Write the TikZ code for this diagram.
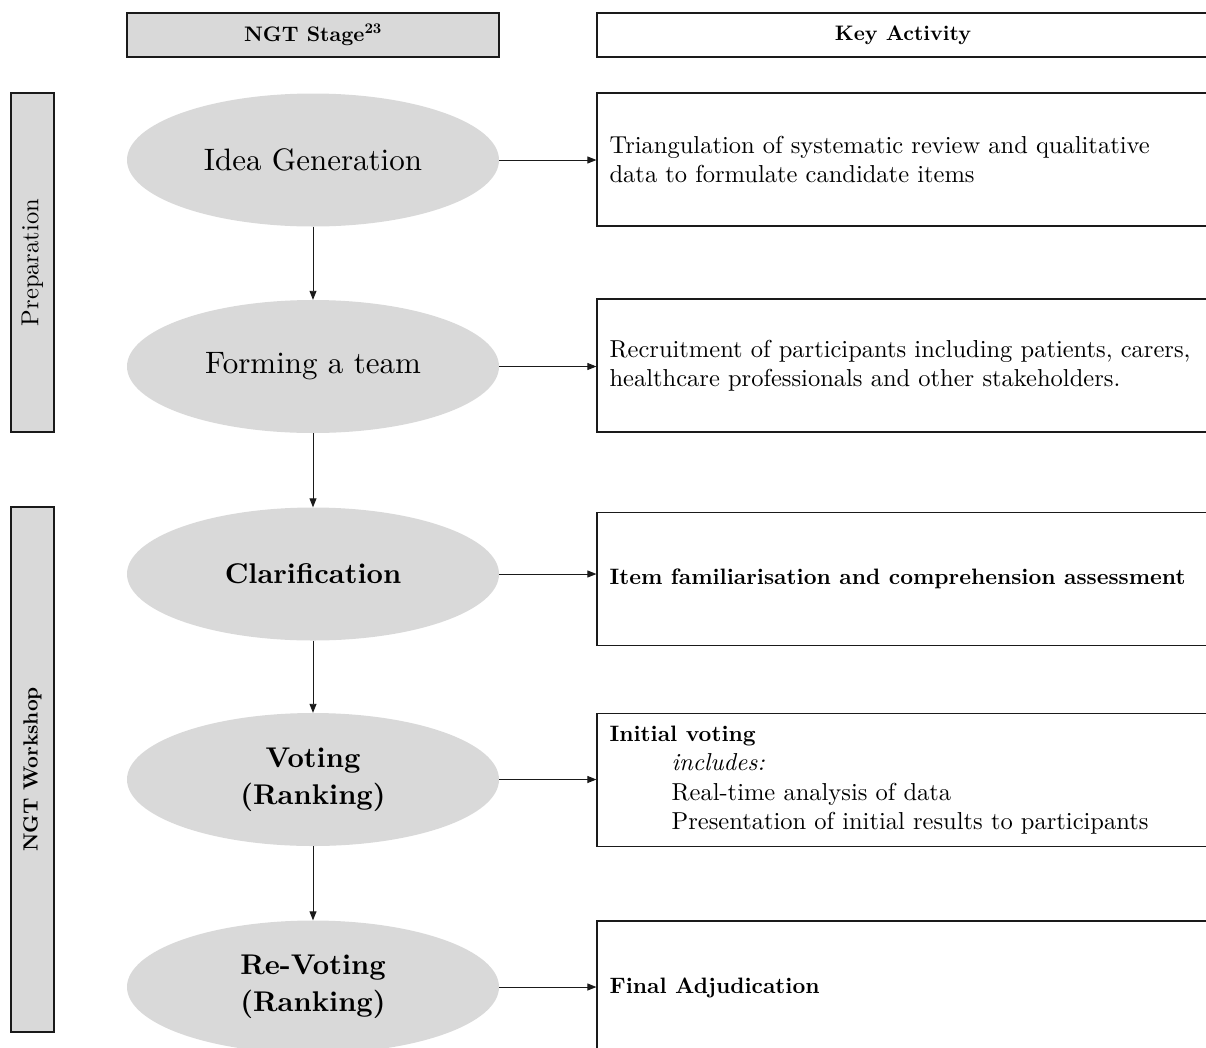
\documentclass[tikz,border=0pt]{standalone}
\usepackage{fontspec}
\setmainfont{lmroman10}[Extension=.otf, UprightFont=*-regular, BoldFont=*-bold,
  ItalicFont=*-italic, BoldItalicFont=*-bolditalic]
\usetikzlibrary{positioning,arrows.meta,shapes.geometric}
\definecolor{cStage}{HTML}{D9D9D9}
\definecolor{cLine}{HTML}{1A1A1A}
\tikzset{
  hdr/.style={draw=cLine, line width=1.4pt, minimum height=44pt, inner sep=0pt,
              font=\fontsize{21}{25}\selectfont\bfseries},
  stagebar/.style={hdr, fill=cStage, minimum width=372pt},
  actbar/.style={hdr, fill=white, minimum width=612pt},
  side/.style={draw=cLine, line width=1.4pt, fill=cStage, rotate=90,
               minimum height=43pt, inner sep=0pt},
  stage/.style={ellipse, fill=cStage, minimum width=372pt, minimum height=133pt,
                inner sep=0pt, align=center},
  stn/.style={stage, font=\fontsize{31}{37}\selectfont},
  stb/.style={stage, font=\fontsize{28.5}{37}\selectfont\bfseries},
  act/.style={draw=cLine, line width=1.2pt, minimum width=612pt, minimum height=133pt,
              inner sep=0pt},
  acttxt/.style={anchor=west, xshift=13pt, inner sep=0pt, align=left,
                 font=\fontsize{24.5}{29.3}\selectfont},
  ar/.style={-{Triangle[length=9pt, width=7pt]}, line width=0.9pt, cLine},
}
\newcommand{\bx}[1]{{\fontsize{22.3}{29.3}\selectfont\bfseries #1}}

\begin{document}
\begin{tikzpicture}[x=1pt, y=-1pt]
    \useasboundingbox (0,0) rectangle (1206,1047);
    \clip (0,0) rectangle (1206,1047);

    % column heads
    \node[stagebar] (hS) at (313,35) {NGT Stage\textsuperscript{23}};
    \node[actbar]   (hA) at (903,35) {Key Activity};

    % phase bars
    \node[side, minimum width=339pt, font=\fontsize{24.5}{29}\selectfont] (pPrep) at (32.5,262.5) {Preparation};
    \node[side, minimum width=525pt, font=\fontsize{20.5}{25}\selectfont\bfseries] (pWork) at (32.5,769.5) {NGT Workshop};

    % stages
    \node[stn] (s1) at (313,160)   {Idea Generation};
    \node[stn] (s2) at (313,366.5) {Forming a team};
    \node[stb] (s3) at (313,574)   {Clarification};
    \node[stb] (s4) at (313,779.5) {Voting\\(Ranking)};
    \node[stb] (s5) at (313,987)   {Re-Voting\\(Ranking)};

    % key activities
    \node[act] (a1) at (903,159.5) {};
    \node[act] (a2) at (903,365.5) {};
    \node[act] (a3) at (903,579)   {};
    \node[act] (a4) at (903,780)   {};
    \node[act] (a5) at (903,987.5) {};
    \node[acttxt] (t1) at (a1.west) {Triangulation of systematic review and qualitative\\data to formulate candidate items};
    \node[acttxt] (t2) at (a2.west) {Recruitment of participants including patients, carers,\\healthcare professionals and other stakeholders.};
    \node[acttxt] (t3) at (a3.west) {\bx{Item familiarisation and comprehension assessment}};
    \node[acttxt] (t4) at (a4.west) {\bx{Initial voting}\\\hspace*{62pt}\textit{includes:}\\\hspace*{62pt}Real-time analysis of data\\\hspace*{62pt}Presentation of initial results to participants};
    \node[acttxt] (t5) at (a5.west) {\bx{Final Adjudication}};

    \foreach \i/\j in {1/2,2/3,3/4,4/5}
      \draw[ar] (s\i) -- (s\j);
    \foreach \i in {1,...,5}
      \draw[ar] (s\i.east) -- (s\i.east -| a\i.west);
\end{tikzpicture}
\end{document}
